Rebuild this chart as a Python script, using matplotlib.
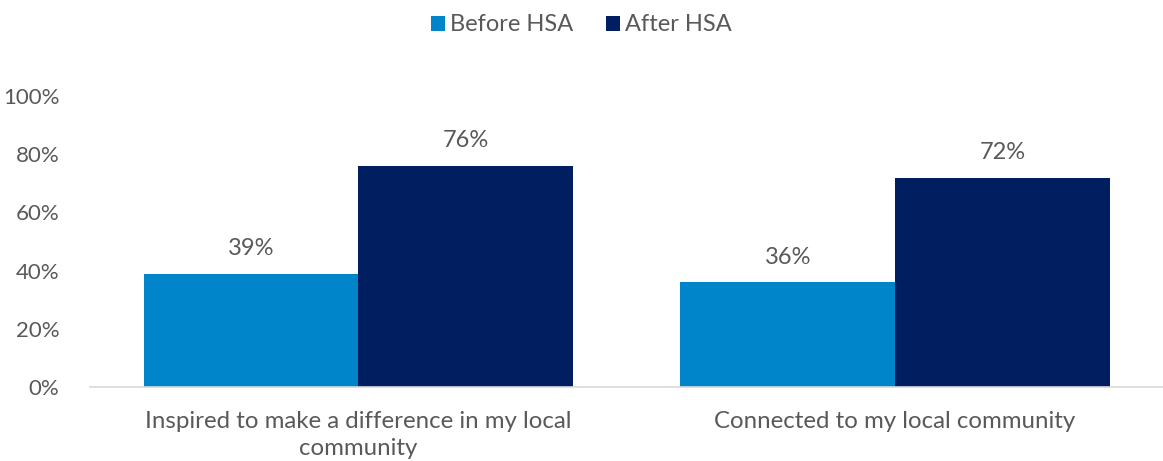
import numpy as np
import matplotlib.pyplot as plt

plt.rcParams['font.family'] = ['Lato', 'DejaVu Sans']

categories = ['Inspired to make a difference in my local\ncommunity',
              'Connected to my local community']
before = [0.39, 0.36]
after = [0.76, 0.72]
series_names = ['Before HSA', 'After HSA']
yticks = [0, 0.2, 0.4, 0.6, 0.8, 1.0]

c_before = '#0085CA'
c_after = '#001E60'
txt = '#595959'

fig = plt.figure(figsize=(11.63, 4.61), dpi=100)
ax = fig.add_axes([0.0774, 0.1605, 0.923, 0.631])

x = np.arange(len(categories))
w = 0.4
b1 = ax.bar(x - w/2, before, w, color=c_before, label=series_names[0])
b2 = ax.bar(x + w/2, after, w, color=c_after, label=series_names[1])

for bars in (b1, b2):
    for r in bars:
        ax.text(r.get_x() + r.get_width()/2, r.get_height() + 0.05,
                '{:.0f}%'.format(r.get_height()*100), ha='center', va='bottom',
                fontsize=17, color=txt)

ax.set_xlim(-0.5, 1.5)
ax.set_ylim(0, 1.0)
ax.set_yticks(yticks)
ax.set_yticklabels(['{:.0f}%'.format(t*100) for t in yticks])
ax.set_xticks(x)
ax.set_xticklabels(categories, linespacing=1.35)
ax.tick_params(axis='y', length=0, labelsize=16, labelcolor=txt, pad=22)
ax.tick_params(axis='x', length=0, labelsize=17.3, labelcolor=txt, pad=17)
for s in ['top', 'right', 'left']:
    ax.spines[s].set_visible(False)
ax.spines['bottom'].set_color('#D9D9D9')
ax.spines['bottom'].set_linewidth(1.2)

leg = fig.legend(loc='upper center', bbox_to_anchor=(0.5, 1.015), ncol=2, frameon=False,
                 fontsize=17, handlelength=0.6, handleheight=0.6, handletextpad=0.2,
                 columnspacing=1.4)
for t in leg.get_texts():
    t.set_color(txt)

fig.savefig('out.png', dpi=100)
